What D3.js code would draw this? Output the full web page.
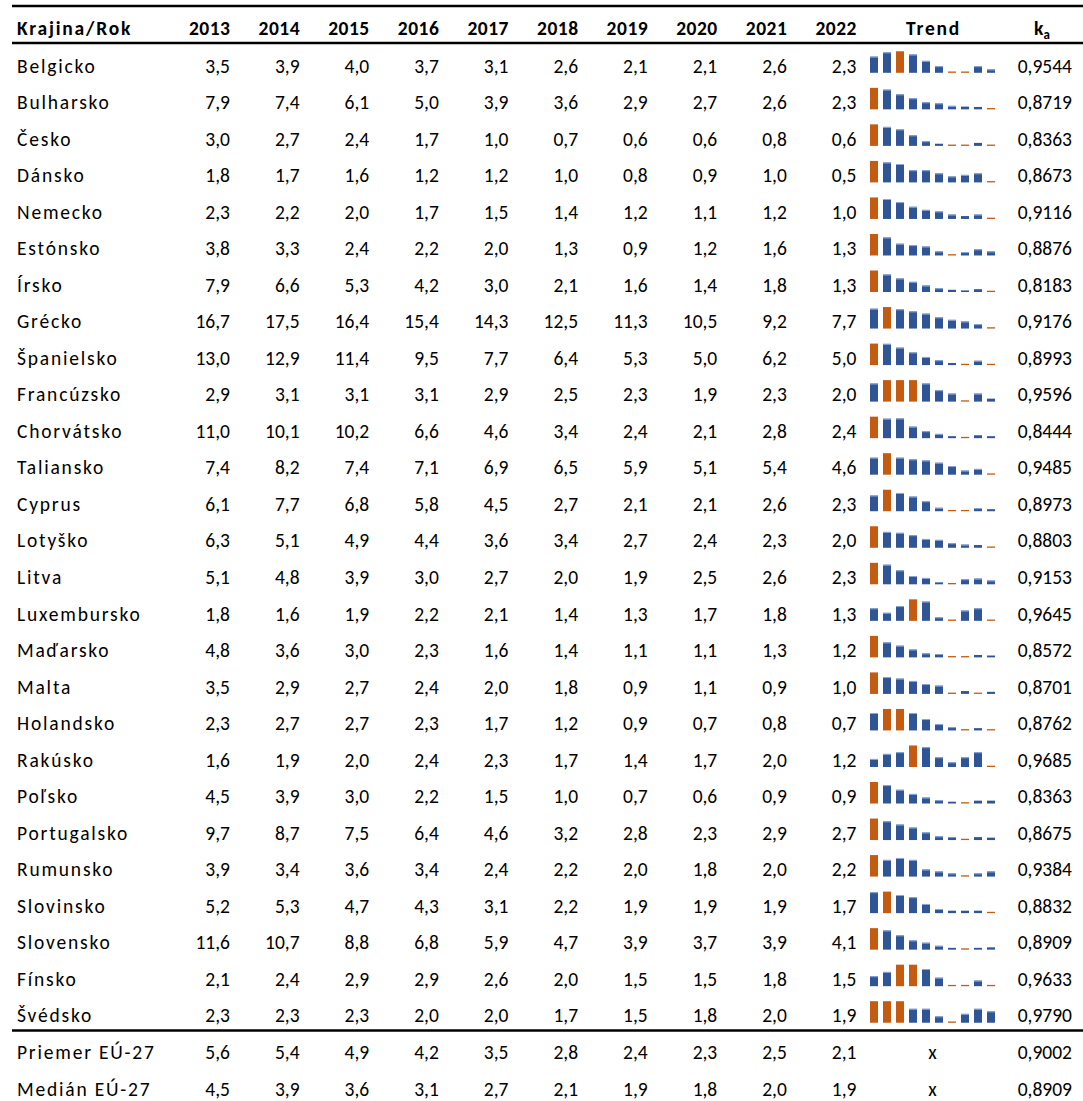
<!DOCTYPE html>
<html>
<head>
<meta charset="utf-8">
<script src="https://cdn.jsdelivr.net/npm/d3@7"></script>
<style>
  body { margin: 0; background: #fff; }
  svg { display: block; }
  text { font-family: Carlito, Lato, "Open Sans", sans-serif; font-size: 19.5px; fill: #000; }
  .head { font-weight: bold; }
  .lab { letter-spacing: 1.8px; }
  .yr { letter-spacing: 0.5px; }
</style>
</head>
<body>
<svg width="1083" height="1101"></svg>
<script>
// years (column headers)
const years = [2013, 2014, 2015, 2016, 2017, 2018, 2019, 2020, 2021, 2022];

// countries
const countries = ["Belgicko", "Bulharsko", "Česko", "Dánsko", "Nemecko", "Estónsko", "Írsko", "Grécko",
  "Španielsko", "Francúzsko", "Chorvátsko", "Taliansko", "Cyprus", "Lotyško", "Litva", "Luxembursko",
  "Maďarsko", "Malta", "Holandsko", "Rakúsko", "Poľsko", "Portugalsko", "Rumunsko", "Slovinsko",
  "Slovensko", "Fínsko", "Švédsko"];

// values per country, 2013..2022
const values = [
  [3.5, 3.9, 4.0, 3.7, 3.1, 2.6, 2.1, 2.1, 2.6, 2.3],
  [7.9, 7.4, 6.1, 5.0, 3.9, 3.6, 2.9, 2.7, 2.6, 2.3],
  [3.0, 2.7, 2.4, 1.7, 1.0, 0.7, 0.6, 0.6, 0.8, 0.6],
  [1.8, 1.7, 1.6, 1.2, 1.2, 1.0, 0.8, 0.9, 1.0, 0.5],
  [2.3, 2.2, 2.0, 1.7, 1.5, 1.4, 1.2, 1.1, 1.2, 1.0],
  [3.8, 3.3, 2.4, 2.2, 2.0, 1.3, 0.9, 1.2, 1.6, 1.3],
  [7.9, 6.6, 5.3, 4.2, 3.0, 2.1, 1.6, 1.4, 1.8, 1.3],
  [16.7, 17.5, 16.4, 15.4, 14.3, 12.5, 11.3, 10.5, 9.2, 7.7],
  [13.0, 12.9, 11.4, 9.5, 7.7, 6.4, 5.3, 5.0, 6.2, 5.0],
  [2.9, 3.1, 3.1, 3.1, 2.9, 2.5, 2.3, 1.9, 2.3, 2.0],
  [11.0, 10.1, 10.2, 6.6, 4.6, 3.4, 2.4, 2.1, 2.8, 2.4],
  [7.4, 8.2, 7.4, 7.1, 6.9, 6.5, 5.9, 5.1, 5.4, 4.6],
  [6.1, 7.7, 6.8, 5.8, 4.5, 2.7, 2.1, 2.1, 2.6, 2.3],
  [6.3, 5.1, 4.9, 4.4, 3.6, 3.4, 2.7, 2.4, 2.3, 2.0],
  [5.1, 4.8, 3.9, 3.0, 2.7, 2.0, 1.9, 2.5, 2.6, 2.3],
  [1.8, 1.6, 1.9, 2.2, 2.1, 1.4, 1.3, 1.7, 1.8, 1.3],
  [4.8, 3.6, 3.0, 2.3, 1.6, 1.4, 1.1, 1.1, 1.3, 1.2],
  [3.5, 2.9, 2.7, 2.4, 2.0, 1.8, 0.9, 1.1, 0.9, 1.0],
  [2.3, 2.7, 2.7, 2.3, 1.7, 1.2, 0.9, 0.7, 0.8, 0.7],
  [1.6, 1.9, 2.0, 2.4, 2.3, 1.7, 1.4, 1.7, 2.0, 1.2],
  [4.5, 3.9, 3.0, 2.2, 1.5, 1.0, 0.7, 0.6, 0.9, 0.9],
  [9.7, 8.7, 7.5, 6.4, 4.6, 3.2, 2.8, 2.3, 2.9, 2.7],
  [3.9, 3.4, 3.6, 3.4, 2.4, 2.2, 2.0, 1.8, 2.0, 2.2],
  [5.2, 5.3, 4.7, 4.3, 3.1, 2.2, 1.9, 1.9, 1.9, 1.7],
  [11.6, 10.7, 8.8, 6.8, 5.9, 4.7, 3.9, 3.7, 3.9, 4.1],
  [2.1, 2.4, 2.9, 2.9, 2.6, 2.0, 1.5, 1.5, 1.8, 1.5],
  [2.3, 2.3, 2.3, 2.0, 2.0, 1.7, 1.5, 1.8, 2.0, 1.9]
];

// k_a coefficient per country
const ka = [0.9544, 0.8719, 0.8363, 0.8673, 0.9116, 0.8876, 0.8183, 0.9176, 0.8993, 0.9596,
  0.8444, 0.9485, 0.8973, 0.8803, 0.9153, 0.9645, 0.8572, 0.8701, 0.8762, 0.9685,
  0.8363, 0.8675, 0.9384, 0.8832, 0.8909, 0.9633, 0.9790];

// summary rows
const summaryNames = ["Priemer EÚ-27", "Medián EÚ-27"];
const summaryValues = [
  [5.6, 5.4, 4.9, 4.2, 3.5, 2.8, 2.4, 2.3, 2.5, 2.1],
  [4.5, 3.9, 3.6, 3.1, 2.7, 2.1, 1.9, 1.8, 2.0, 1.9]
];
const summaryKa = [0.9002, 0.8909];

const locale = d3.formatLocale({decimal: ",", thousands: " ", grouping: [3], currency: ["", " €"]});
const f1 = locale.format(".1f");
const f4 = locale.format(".4f");

const svg = d3.select("svg");
const blue = "#2f5597", blueTop = "#8ea9db", orange = "#c55a11";

// column positions
const xCol = d3.scaleLinear().domain([0, years.length - 1]).range([230, 856.5]);
const nRows = countries.length + summaryNames.length;
const yRow = d3.scaleLinear().domain([0, nRows - 1]).range([72.5, 1095.5]);
const xSpark = d3.scaleBand().domain(years).range([867.5, 997.5]).paddingInner(5 / 13).paddingOuter(2.5 / 13);
const trendX = 932.5, kaX = 1072;

// lines
[6, 43, yRow(countries.length - 1) + 8].forEach(y => {
  svg.append("line")
    .attr("x1", 12).attr("x2", 1083)
    .attr("y1", y).attr("y2", y)
    .attr("stroke", "#000").attr("stroke-width", 2.5);
});

// header
const head = svg.append("g").attr("class", "head");
head.append("text").attr("class", "lab").attr("x", 17).attr("y", 35).text("Krajina/Rok");
head.selectAll(".yr").data(years).enter().append("text")
  .attr("class", "yr")
  .attr("x", (d, i) => xCol(i) + 0.5).attr("y", 35)
  .attr("text-anchor", "end").text(d => d);
head.append("text").attr("class", "lab").attr("x", trendX + 1).attr("y", 35).attr("text-anchor", "middle").text("Trend");
const kh = head.append("text").attr("x", 1042).attr("y", 35).attr("text-anchor", "middle");
kh.append("tspan").text("k");
kh.append("tspan").attr("dy", 4).style("font-size", "13px").text("a");

// rows
const rows = countries.map((c, i) => ({name: c, vals: values[i], ka: ka[i], spark: true}))
  .concat(summaryNames.map((c, i) => ({name: c, vals: summaryValues[i], ka: summaryKa[i], spark: false})));

const maxH = 21.5, minH = 1.3;

rows.forEach((r, i) => {
  const y = yRow(i);
  const g = svg.append("g");
  g.append("text").attr("class", "lab").attr("x", 17).attr("y", y).text(r.name);
  g.selectAll(".v").data(r.vals).enter().append("text")
    .attr("x", (d, j) => xCol(j)).attr("y", y)
    .attr("text-anchor", "end").text(d => f1(d));
  g.append("text").attr("x", kaX).attr("y", y).attr("text-anchor", "end").text(f4(r.ka));

  if (!r.spark) {
    g.append("text").attr("x", trendX).attr("y", y).attr("text-anchor", "middle").text("x");
    return;
  }
  const lo = d3.min(r.vals), hi = d3.max(r.vals);
  const h = d3.scaleLinear().domain([lo, hi]).range([minH, maxH]);
  const base = y + 0.3;
  const bars = r.vals.map((v, j) => ({year: years[j], v: v, hl: v === lo || v === hi}));
  g.selectAll(".bar").data(bars).enter().append("rect")
    .attr("x", d => xSpark(d.year))
    .attr("y", d => base - h(d.v))
    .attr("width", xSpark.bandwidth())
    .attr("height", d => h(d.v))
    .attr("fill", d => d.hl ? orange : blue);
  g.selectAll(".bartop").data(bars.filter(d => !d.hl && h(d.v) > 3)).enter().append("rect")
    .attr("x", d => xSpark(d.year))
    .attr("y", d => base - h(d.v))
    .attr("width", xSpark.bandwidth())
    .attr("height", 1)
    .attr("fill", blueTop);
});
</script>
</body>
</html>
